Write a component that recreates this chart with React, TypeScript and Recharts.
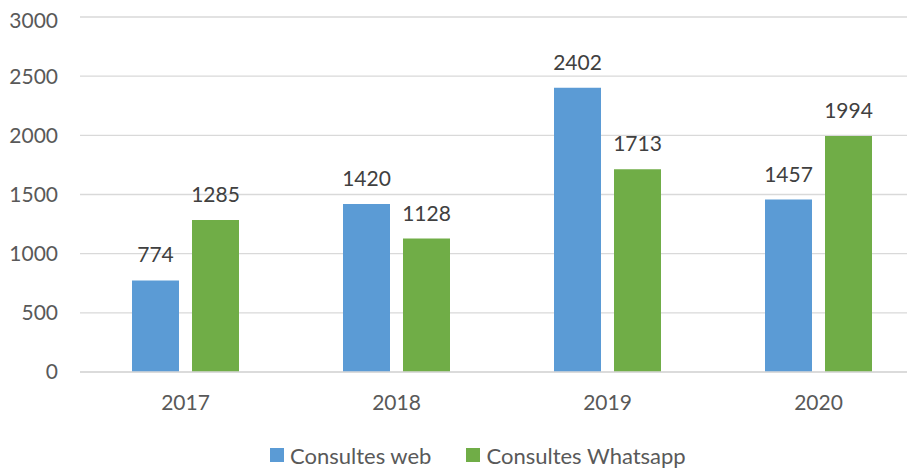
import React from "react";
import {
  BarChart,
  Bar,
  XAxis,
  YAxis,
  CartesianGrid,
  Legend,
  LabelList,
} from "recharts";

const years = ["2017", "2018", "2019", "2020"];
const web = [774, 1420, 2402, 1457];
const whatsapp = [1285, 1128, 1713, 1994];
const yTicks = [0, 500, 1000, 1500, 2000, 2500, 3000];

const seriesNames = { web: "Consultes web", whatsapp: "Consultes Whatsapp" };
const colors = { web: "#5b9bd5", whatsapp: "#70ad47" };

const FONT = "Lato, 'Open Sans', sans-serif";

const data = years.map((year, i) => ({
  year,
  web: web[i],
  whatsapp: whatsapp[i],
}));

const LegendBox = () => (
  <div
    style={{
      display: "flex",
      alignItems: "center",
      height: 30,
      paddingLeft: 262,
      fontFamily: FONT,
      fontSize: 22,
      color: "#595959",
    }}
  >
    {(["web", "whatsapp"] as const).map((k, i) => (
      <div
        key={k}
        style={{ display: "flex", alignItems: "center", marginRight: i === 0 ? 35 : 0 }}
      >
        <span
          style={{
            display: "inline-block",
            width: 14,
            height: 14,
            background: colors[k],
            marginRight: 6,
          }}
        />
        <span>{seriesNames[k]}</span>
      </div>
    ))}
  </div>
);

const App = () => {
  return (
    <div style={{ width: 907, height: 462, overflow: "hidden" }}>
      <BarChart
        width={917}
        height={462}
        data={data}
        margin={{ top: 9, right: 1, bottom: 0, left: 0 }}
        barSize={47}
        barGap={13}
      >
        <CartesianGrid vertical={false} stroke="#d9d9d9" strokeWidth={1.3} />
        <XAxis
          dataKey="year"
          height={68}
          axisLine={{ stroke: "#d9d9d9", strokeWidth: 1.3 }}
          tickLine={false}
          tickSize={0}
          tickMargin={23}
          tick={{ fill: "#595959", fontSize: 21, fontFamily: FONT }}
        />
        <YAxis
          width={72}
          domain={[0, 3000]}
          ticks={yTicks}
          axisLine={false}
          tickLine={false}
          tickSize={0}
          tickMargin={22}
          tick={{ fill: "#595959", fontSize: 21, fontFamily: FONT }}
        />
        <Legend
          verticalAlign="bottom"
          content={<LegendBox />}
          wrapperStyle={{ left: 0, width: 917, height: 30 }}
        />
        <Bar dataKey="web" name={seriesNames.web} fill={colors.web} isAnimationActive={false}>
          <LabelList
            dataKey="web"
            position="top"
            offset={18}
            fill="#404040"
            fontSize={21}
            fontFamily={FONT}
          />
        </Bar>
        <Bar
          dataKey="whatsapp"
          name={seriesNames.whatsapp}
          fill={colors.whatsapp}
          isAnimationActive={false}
        >
          <LabelList
            dataKey="whatsapp"
            position="top"
            offset={18}
            fill="#404040"
            fontSize={21}
            fontFamily={FONT}
          />
        </Bar>
      </BarChart>
    </div>
  );
};

export default App;
